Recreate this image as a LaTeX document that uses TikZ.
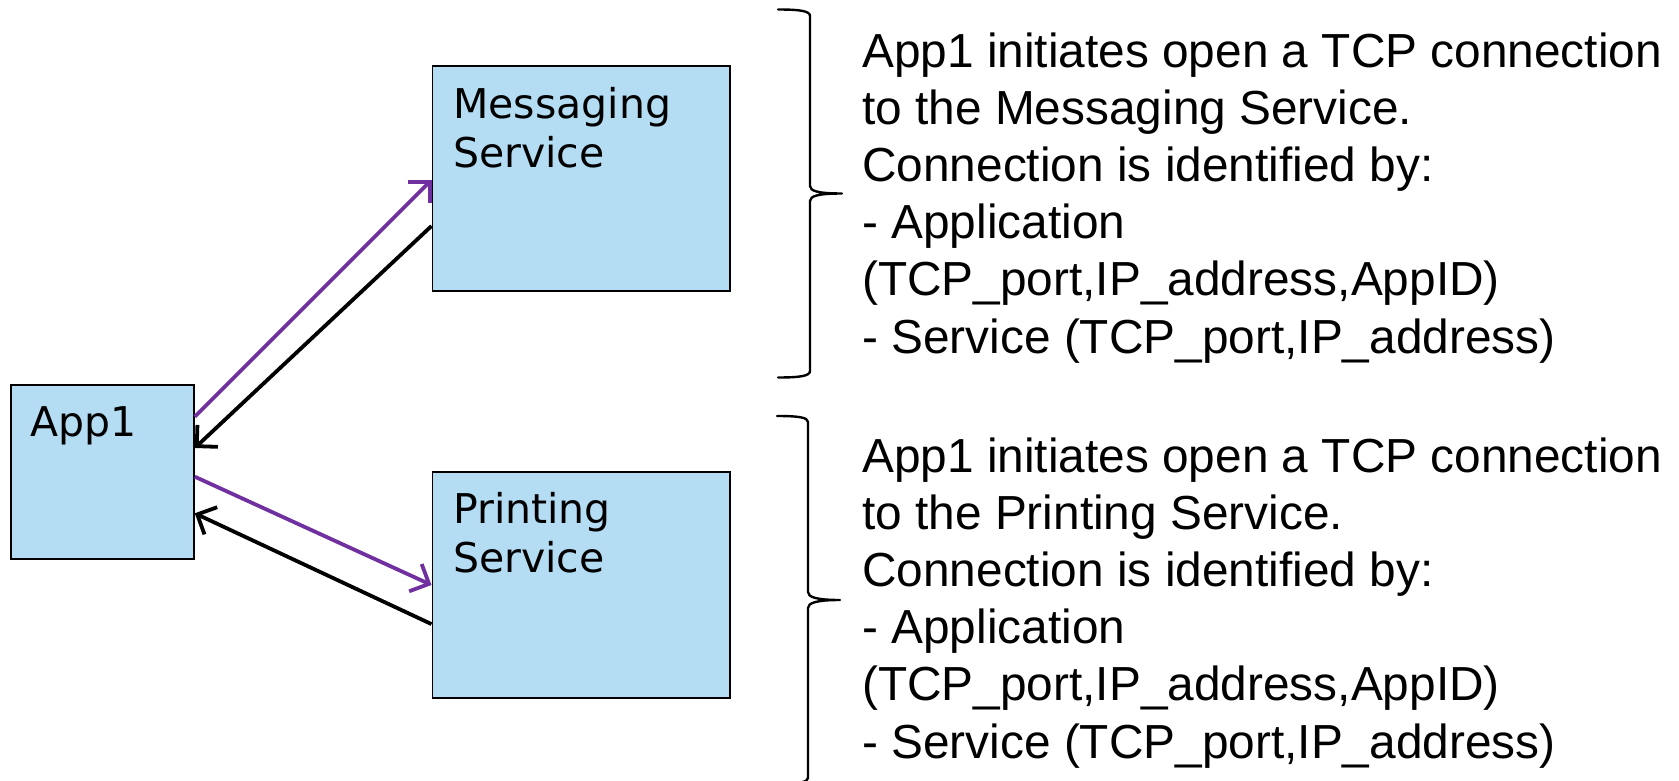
\documentclass[tikz,border=0pt]{standalone}
\usepackage{fontspec}
\setmainfont{Liberation Sans}
\newfontfamily\boxfont{DejaVu Sans}
\usetikzlibrary{arrows.meta,calc}
\definecolor{boxblue}{RGB}{180,220,242}
\definecolor{arrowpurple}{RGB}{112,48,160}
\tikzset{
  box/.style={draw=black, line width=1.8pt, fill=boxblue, rectangle, inner sep=0pt, anchor=north west},
  boxlabel/.style={anchor=base west, inner sep=0pt, align=left, font=\boxfont\fontsize{41}{49.4}\selectfont},
  desc/.style={anchor=base west, inner sep=0pt, align=left, font=\fontsize{47.8}{57.2}\selectfont},
  conn/.style={line width=3.8pt, -{Straight Barb[length=15pt,width=30pt]}},
  bracepath/.style={line width=2.4pt, line cap=round, line join=round}
}
\begin{document}
\begin{tikzpicture}[x=1pt,y=-1pt]
\useasboundingbox (0,0) rectangle (1679,781);
\clip (0,0) rectangle (1679,781);
% boxes
\node[box, minimum width=183pt, minimum height=174pt] (app) at (10,384) {};
\node[box, minimum width=297.7pt, minimum height=224.9pt] (msg) at (431.5,65.3) {};
\node[box, minimum width=297.7pt, minimum height=226pt] (prt) at (431.5,471.1) {};
% labels (anchor base = baseline of last line)
\node[boxlabel] (applabel) at (30,436.7) {App1};
\node[boxlabel] (msglabel) at (453,167.7) {Messaging\\Service};
\node[boxlabel] (prtlabel) at (453,572.7) {Printing\\Service};
% connectors
\draw[conn, arrowpurple] ($(app.north east)+(0,32.7)$) -- ($(msg.north west)+(0,114.7)$);
\draw[conn, black] ($(msg.north west)+(0,160.7)$) -- ($(app.north east)+(0,64)$);
\draw[conn, arrowpurple] ($(app.north east)+(0,92.7)$) -- ($(prt.north west)+(0,113.9)$);
\draw[conn, black] ($(prt.north west)+(0,153)$) -- ($(app.north east)+(0,129.3)$);
% braces
\draw[bracepath] (778,9.5) .. controls (800,9.5) and (810,11) .. (810,16) -- (810,186)
  .. controls (810,191) and (818,193.5) .. (842,193.5)
  .. controls (818,193.5) and (810,196) .. (810,201) -- (810,371)
  .. controls (810,376) and (800,377.5) .. (778,377.5);
\draw[bracepath] (777,416) .. controls (799,416) and (808,417.5) .. (808,422) -- (808,592)
  .. controls (808,597) and (816,600) .. (840,600)
  .. controls (816,600) and (808,603) .. (808,608) -- (808,778)
  .. controls (808,782) and (799,784) .. (777,784);
% descriptions (anchor base = baseline of last line)
\node[desc] (desc1) at (862,353) {App1 initiates open a TCP connection\\to the Messaging Service.\\Connection is identified by:\\- Application\\(TCP\_port,IP\_address,AppID)\\- Service (TCP\_port,IP\_address)};
\node[desc] (desc2) at (862,758) {App1 initiates open a TCP connection\\to the Printing Service.\\Connection is identified by:\\- Application\\(TCP\_port,IP\_address,AppID)\\- Service (TCP\_port,IP\_address)};
\end{tikzpicture}
\end{document}
